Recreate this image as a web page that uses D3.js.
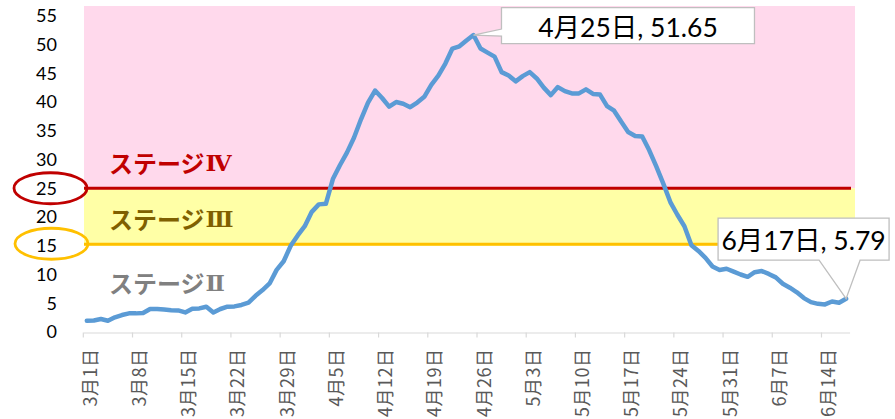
<!DOCTYPE html>
<html>
<head>
<meta charset="utf-8">
<script src="https://cdn.jsdelivr.net/npm/d3@7"></script>
<style>
  html, body { margin: 0; padding: 0; background: #fff; }
  svg { display: block; }
</style>
</head>
<body>
<svg id="chart" width="895" height="419"></svg>
<script>
// ---- data ----
const startDate = new Date(2021, 2, 1);   // 3月1日
const endDate = new Date(2021, 5, 17);    // 6月17日
const values = [
  1.96, 2.0, 2.26, 1.96, 2.55, 2.95, 3.24, 3.24, 3.3, 4.0,
  4.0, 3.9, 3.8, 3.75, 3.4, 4.05, 4.1, 4.4, 3.4, 4.0,
  4.4, 4.45, 4.7, 5.1, 6.3, 7.3, 8.45, 10.8, 12.3, 15.0,
  16.8, 18.4, 20.9, 22.2, 22.3, 26.6, 29.0, 31.2, 33.8, 37.0,
  39.9, 42.0, 40.7, 39.2, 40.0, 39.7, 39.1, 39.9, 40.9, 43.0,
  44.6, 46.7, 49.3, 49.7, 50.7, 51.65, 49.3, 48.6, 47.9, 45.2,
  44.6, 43.6, 44.5, 45.2, 44.1, 42.5, 41.2, 42.6, 41.9, 41.5,
  41.5, 42.2, 41.4, 41.3, 39.3, 38.5, 36.6, 34.8, 34.1, 34.0,
  31.6, 28.8, 25.8, 22.6, 20.4, 18.4, 15.1, 14.1, 12.9, 11.4,
  10.8, 11.0, 10.5, 10.0, 9.6, 10.4, 10.6, 10.1, 9.5, 8.4,
  7.7, 6.9, 5.9, 5.2, 4.9, 4.8, 5.3, 5.1, 5.79
];
const yTicks = [0, 5, 10, 15, 20, 25, 30, 35, 40, 45, 50, 55];
const stageLimits = [15, 25];          // ステージⅢ, ステージⅣ thresholds
const bandTop = 56.7;
const stageNames = ["ステージ", "ステージ", "ステージ"];
const stageNumerals = ["Ⅱ", "Ⅲ", "Ⅳ"];
const peakLabel = "4月25日, 51.65";
const lastLabel = "6月17日, 5.79";

const dates = d3.timeDay.range(startDate, d3.timeDay.offset(endDate, 1));
const fmt = d => (d.getMonth() + 1) + "月" + d.getDate() + "日";
const tickDates = dates.filter((d, i) => i % 7 === 0);

// ---- layout ----
const svg = d3.select("#chart");
const x = d3.scaleBand().domain(dates.map(fmt)).range([83.3, 849.6]).paddingInner(0).paddingOuter(0);
const y = d3.scaleLinear().domain([0, 55]).range([332, 15.8]);
const cx = d => x(fmt(d)) + x.bandwidth() / 2;
const CJK = "'Noto Sans CJK JP', sans-serif";
const MIX = "Lato, 'Noto Sans CJK JP', sans-serif";

// bands
svg.append("rect").attr("x", 84).attr("width", 855 - 84)
  .attr("y", y(bandTop)).attr("height", y(stageLimits[1]) - y(bandTop))
  .attr("fill", "#ffd9ec");
svg.append("rect").attr("x", 84).attr("width", 855 - 84)
  .attr("y", y(stageLimits[1])).attr("height", y(stageLimits[0]) - y(stageLimits[1]))
  .attr("fill", "#ffffa6");

// threshold lines
svg.append("line").attr("x1", 84).attr("x2", 851)
  .attr("y1", y(stageLimits[1])).attr("y2", y(stageLimits[1]))
  .attr("stroke", "#c00000").attr("stroke-width", 3.2);
svg.append("line").attr("x1", 84).attr("x2", 851)
  .attr("y1", y(stageLimits[0]) - 1.5).attr("y2", y(stageLimits[0]) - 1.5)
  .attr("stroke", "#ffc000").attr("stroke-width", 3.2);

// stage labels
const stageColors = ["#808080", "#7f6000", "#c00000"];
const stageY = [282, 218, 162];
stageNames.forEach((t, i) => {
  const tx = svg.append("text").attr("x", 109).attr("y", stageY[i])
    .attr("dominant-baseline", "central")
    .style("font-family", CJK)
    .style("font-weight", "bold").style("font-size", "24px")
    .attr("fill", stageColors[i]);
  tx.append("tspan").text(t);
  tx.append("tspan")
    .style("font-family", "'DejaVu Serif', 'Liberation Serif', serif")
    .style("font-size", "23px")
    .attr("dx", 1).text(stageNumerals[i]);
});

// y-axis labels (no axis line in reference)
const yAxis = d3.axisLeft(y).tickValues(yTicks).tickSize(0).tickPadding(0);
const yg = svg.append("g").attr("transform", "translate(57,0)").call(yAxis);
yg.select(".domain").remove();
yg.selectAll("text").attr("fill", "#000")
  .style("font-size", "18px").style("font-family", "Lato, sans-serif");

// ellipses around 25 and 15
svg.append("ellipse").attr("cx", 50.5).attr("cy", y(25)).attr("rx", 36.5).attr("ry", 15.5)
  .attr("fill", "none").attr("stroke", "#c00000").attr("stroke-width", 2.8);
svg.append("ellipse").attr("cx", 51.5).attr("cy", y(15) - 2).attr("rx", 36.5).attr("ry", 15.5)
  .attr("fill", "none").attr("stroke", "#ffc000").attr("stroke-width", 2.8);

// x axis
const xAxis = d3.axisBottom(x).tickValues(tickDates.map(fmt)).tickSize(5).tickSizeOuter(0);
const xg = svg.append("g").attr("transform", "translate(0,332.5)").call(xAxis);
xg.select(".domain").attr("stroke", "#d9d9d9").attr("stroke-width", 1.2);
xg.selectAll(".tick line").attr("stroke", "#d9d9d9").attr("stroke-width", 1.2)
  .attr("transform", `translate(${-x.bandwidth() / 2},0)`);
xg.selectAll(".tick text")
  .attr("fill", "#595959")
  .style("font-size", "18px").style("font-family", CJK).style("letter-spacing", "0.5px")
  .attr("text-anchor", "end")
  .attr("dominant-baseline", "central")
  .attr("transform", "translate(2,16) rotate(-90)")
  .attr("x", 0).attr("y", 0).attr("dy", null);

// line
const line = d3.line().x((v, i) => cx(dates[i])).y(v => y(v)).curve(d3.curveLinear);
svg.append("path").datum(values).attr("d", line)
  .attr("fill", "none").attr("stroke", "#5b9bd5").attr("stroke-width", 4.5)
  .attr("stroke-linejoin", "round").attr("stroke-linecap", "round");

// callouts
const iPeak = values.indexOf(d3.max(values));
const px = cx(dates[iPeak]), py = y(values[iPeak]);
{
  const L = px + 28, R = px + 281, T = py - 27.5, B = py + 8.5;
  const path = `M${L},${T} H${R} V${B} H${L} V${py + 1} L${px},${py} L${L},${py - 6} Z`;
  svg.append("path").attr("d", path).attr("fill", "#fff").attr("stroke", "#bfbfbf").attr("stroke-width", 1.3);
  svg.append("text").attr("x", (L + R) / 2).attr("y", (T + B) / 2 + 1)
    .attr("text-anchor", "middle").attr("dominant-baseline", "central")
    .style("font-size", "26.5px").style("font-family", MIX).attr("fill", "#000").text(peakLabel);
}
const iLast = values.length - 1;
const lx = cx(dates[iLast]), ly = y(values[iLast]);
{
  const L = lx - 128, R = lx + 43, T = ly - 80.5, B = ly - 38.5;
  const path = `M${L},${T} H${R} V${B} H${lx + 14} L${lx},${ly} L${lx - 27},${B} H${L} Z`;
  svg.append("path").attr("d", path).attr("fill", "#fff").attr("stroke", "#bfbfbf").attr("stroke-width", 1.3);
  svg.append("text").attr("x", (L + R) / 2).attr("y", (T + B) / 2 + 1)
    .attr("text-anchor", "middle").attr("dominant-baseline", "central")
    .style("font-size", "26.5px").style("font-family", MIX).attr("fill", "#000").text(lastLabel);
}
</script>
</body>
</html>
